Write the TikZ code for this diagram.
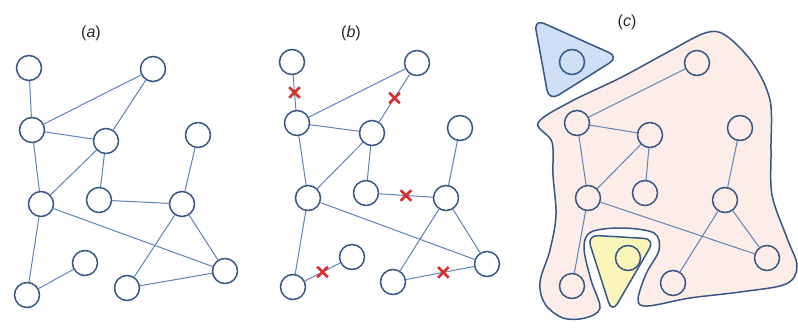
\documentclass[tikz,border=0pt]{standalone}
\usepackage{fontspec}
\setmainfont{Liberation Sans}
\usetikzlibrary{shapes.misc}
\definecolor{nodeblue}{HTML}{365687}
\definecolor{edgeblue}{HTML}{5F82BA}
\definecolor{cutred}{HTML}{D8302E}
\definecolor{pinkfill}{HTML}{FCEDE8}
\definecolor{bluefill}{HTML}{CFE0F6}
\definecolor{yellowfill}{HTML}{FAF6BA}
\tikzset{
  vtx/.style={circle, draw=nodeblue, line width=1.5pt, minimum size=25pt, inner sep=0pt},
  lnk/.style={draw=edgeblue, line width=1pt},
  cutmark/.style={cross out, draw=cutred, line width=2.6pt, minimum size=8pt, inner sep=0pt},
  region/.style={draw=nodeblue, line width=1.5pt},
  panel/.style={font=\fontsize{16}{16}\selectfont, text=black!85}
}
\begin{document}
\begin{tikzpicture}[x=1pt,y=-1pt]
\useasboundingbox (0,0) rectangle (798,329);

% ---------- panel labels ----------
\node[panel] (la) at (91,33) {(\textit{a})};
\node[panel] (lb) at (351,33) {(\textit{b})};
\node[panel] (lc) at (627,22) {(\textit{c})};

% ---------- (a) full graph ----------
\node[vtx] (a1) at (29,68) {};
\node[vtx] (a2) at (153,69) {};
\node[vtx] (a3) at (32,130) {};
\node[vtx] (a4) at (106,141) {};
\node[vtx] (a5) at (198,135) {};
\node[vtx] (a6) at (41,204) {};
\node[vtx] (a7) at (99,200) {};
\node[vtx] (a8) at (182,204) {};
\node[vtx] (a9) at (85,263) {};
\node[vtx] (a10) at (27,295) {};
\node[vtx] (a11) at (127,288) {};
\node[vtx] (a12) at (225,271) {};
\foreach \u/\v in {a1/a3,a3/a2,a2/a4,a3/a4,a3/a6,a4/a6,a4/a7,a7/a8,a5/a8,
                   a6/a12,a6/a10,a10/a9,a8/a11,a8/a12,a11/a12}
  \draw[lnk] (\u) -- (\v);

% ---------- (b) graph with cut links ----------
\node[vtx] (b1) at (292,62) {};
\node[vtx] (b2) at (417,63) {};
\node[vtx] (b3) at (297,123) {};
\node[vtx] (b4) at (372,133) {};
\node[vtx] (b5) at (460,128) {};
\node[vtx] (b6) at (308,198) {};
\node[vtx] (b7) at (366,193) {};
\node[vtx] (b8) at (446,198) {};
\node[vtx] (b9) at (352,257) {};
\node[vtx] (b10) at (293,287) {};
\node[vtx] (b11) at (393,282) {};
\node[vtx] (b12) at (487,264) {};
\foreach \u/\v in {b1/b3,b3/b2,b2/b4,b3/b4,b3/b6,b4/b6,b4/b7,b7/b8,b5/b8,
                   b6/b12,b6/b10,b10/b9,b8/b11,b8/b12,b11/b12}
  \draw[lnk] (\u) -- (\v);
\path (b1) -- (b3) node[cutmark, pos=0.5] (x1) {};
\path (b2) -- (b4) node[cutmark, pos=0.5] (x2) {};
\path (b7) -- (b8) node[cutmark, pos=0.5] (x3) {};
\path (b10) -- (b9) node[cutmark, pos=0.5] (x4) {};
\path (b11) -- (b12) node[cutmark, pos=0.55] (x5) {};

% ---------- (c) resulting partitions ----------
% large pink partition with a notch for the yellow one
\draw[region, fill=pinkfill] plot[smooth cycle, tension=0.55] coordinates {
  (538,123) (570,102) (620,78) (668,52) (705,33) (725,35) (752,62)
  (770,100) (771,150) (772,195) (787,238) (797,266) (786,284)
  (740,292) (690,298) (648,306) (638,300) (646,274) (659,250)
  (654,233) (622,228) (591,232) (584,248) (591,280) (600,308)
  (585,318) (563,318) (545,304) (540,282) (550,250) (556,215)
  (553,175) (552,142)};
% yellow partition inside the notch
\draw[region, fill=yellowfill, rounded corners=11pt]
  (587,235) -- (655,239) -- (612,313) -- cycle;
% blue partition at the top left
\draw[region, fill=bluefill, rounded corners=11pt]
  (534,19) -- (619,57) -- (549,101) -- cycle;

\node[vtx] (c1) at (572,62) {};
\node[vtx] (c2) at (697,63) {};
\node[vtx] (c3) at (577,123) {};
\node[vtx] (c4) at (650,135) {};
\node[vtx] (c5) at (740,128) {};
\node[vtx] (c6) at (588,198) {};
\node[vtx] (c7) at (645,193) {};
\node[vtx] (c8) at (725,200) {};
\node[vtx] (c9) at (628,258) {};
\node[vtx] (c10) at (572,286) {};
\node[vtx] (c11) at (673,283) {};
\node[vtx] (c12) at (767,258) {};
\foreach \u/\v in {c3/c2,c3/c4,c3/c6,c4/c6,c4/c7,c5/c8,
                   c6/c12,c6/c10,c8/c11,c8/c12}
  \draw[lnk] (\u) -- (\v);
\end{tikzpicture}
\end{document}
